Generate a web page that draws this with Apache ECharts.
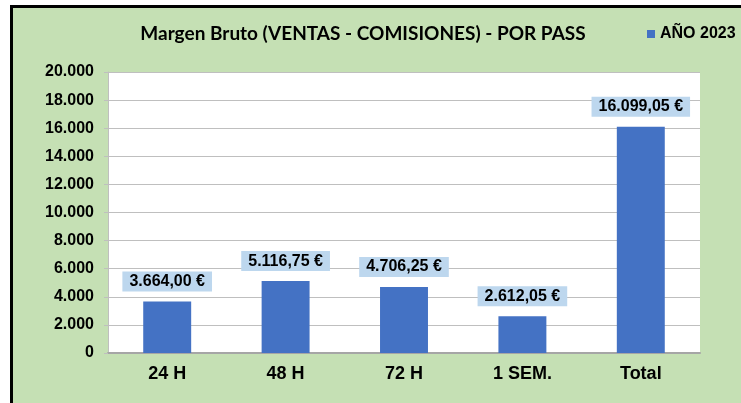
<!DOCTYPE html>
<html>
<head>
<meta charset="utf-8">
<script src="https://cdn.jsdelivr.net/npm/echarts@6/dist/echarts.min.js"></script>
<style>
  html, body { margin: 0; padding: 0; background: #ffffff; }
  #frame {
    position: absolute; left: 10px; top: 5px; width: 731px; height: 396px;
    border-left: 3px solid #000; border-top: 3px solid #000;
    background: #c5e0b4;
  }
  #chart { position: absolute; left: 0; top: 0; width: 741px; height: 403px; }
</style>
</head>
<body>
<div id="frame"></div>
<div id="chart"></div>
<script>
// Margen bruto por tipo de pase, año 2023
const categories = ['24 H', '48 H', '72 H', '1 SEM.', 'Total'];
const margen2023 = [3664.00, 5116.75, 4706.25, 2612.05, 16099.05];
const yTicks = { min: 0, max: 20000, interval: 2000 };
const seriesName = 'AÑO 2023';
const chartTitle = 'Margen Bruto (VENTAS - COMISIONES) - POR PASS';

function miles(v) {
  return String(Math.round(v)).replace(/\B(?=(\d{3})+(?!\d))/g, '.');
}
function euros(v) {
  const parts = v.toFixed(2).split('.');
  return parts[0].replace(/\B(?=(\d{3})+(?!\d))/g, '.') + ',' + parts[1] + ' €';
}

const chart = echarts.init(document.getElementById('chart'), null, { renderer: 'canvas' });
chart.setOption({
  backgroundColor: 'transparent',
  animation: false,
  title: {
    text: chartTitle,
    left: 363, top: 24, textAlign: 'center', padding: 0,
    textStyle: { fontFamily: 'Lato', fontWeight: 'bold', fontSize: 19, color: '#000' }
  },
  legend: {
    left: 647, top: 26, padding: 0,
    icon: 'rect', itemWidth: 8, itemHeight: 8,
    textStyle: { fontFamily: 'Liberation Sans, Arial', fontWeight: 'bold', fontSize: 16, color: '#000' },
    data: [seriesName]
  },
  grid: { left: 108, top: 72, right: 41, bottom: 50, show: true, backgroundColor: '#ffffff', borderWidth: 0 },
  xAxis: {
    type: 'category',
    data: categories,
    axisLine: { lineStyle: { color: '#a6a6a6', width: 2 } },
    axisTick: { show: false },
    axisLabel: { fontFamily: 'Liberation Sans, Arial', fontWeight: 'bold', fontSize: 18, color: '#000', margin: 12 }
  },
  yAxis: {
    type: 'value',
    min: yTicks.min, max: yTicks.max, interval: yTicks.interval,
    axisLine: { show: true, lineStyle: { color: '#bfbfbf' } },
    axisTick: { show: true, length: 4, lineStyle: { color: '#bfbfbf' } },
    splitLine: { lineStyle: { color: '#bfbfbf', width: 1 } },
    axisLabel: { fontFamily: 'Liberation Sans, Arial', fontWeight: 'bold', fontSize: 16, color: '#000', margin: 14, formatter: miles }
  },
  series: [{
    name: seriesName,
    type: 'bar',
    data: margen2023,
    barWidth: '40.5%',
    itemStyle: { color: '#4472c4' },
    label: {
      show: true, position: 'top', distance: 10,
      formatter: p => euros(p.value),
      fontFamily: 'Liberation Sans, Arial', fontWeight: 'bold', fontSize: 16, color: '#000',
      backgroundColor: '#bdd7ee', padding: [2, 7], lineHeight: 16
    }
  }]
});
</script>
</body>
</html>
